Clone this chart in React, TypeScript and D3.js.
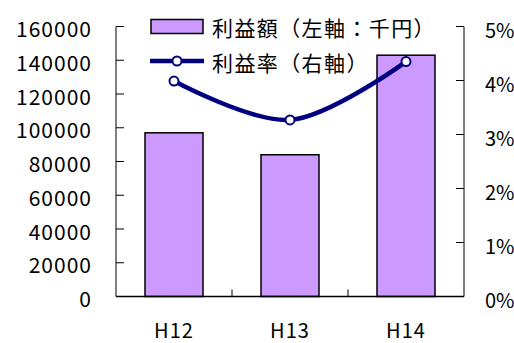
import React from "react";
import * as d3 from "d3";

const categories = ["H12", "H13", "H14"];
const profitAmount = [97000, 84000, 143000];
const profitRate = [0.0399, 0.0327, 0.0435];
const leftTicks = [0, 20000, 40000, 60000, 80000, 100000, 120000, 140000, 160000];
const rightTicks = [0, 0.01, 0.02, 0.03, 0.04, 0.05];
const legendLabels = ["利益額（左軸：千円）", "利益率（右軸）"];

const W = 514;
const H = 343;
const left = 116;
const right = 464;
const top = 26.5;
const bottom = 296.5;
const font = "'Noto Sans CJK JP', 'Noto Sans', sans-serif";
const barFill = "#CC99FF";
const lineColor = "#000080";

export default function App() {
  const x = d3.scaleBand<string>().domain(categories).range([left, right]).padding(0);
  const yL = d3.scaleLinear().domain([0, 160000]).range([bottom, top]);
  const yR = d3.scaleLinear().domain([0, 0.05]).range([bottom, top]);
  const bw = x.bandwidth() * 0.5;
  const cx = (c: string) => (x(c) as number) + x.bandwidth() / 2;

  const linePts: [number, number][] = categories.map((c, i) => [cx(c), yR(profitRate[i])]);
  const linePath = d3.line().curve(d3.curveCatmullRom.alpha(0.5))(linePts) || "";

  const boundaries = categories.slice(1).map((c) => x(c) as number);

  return (
    <svg
      width={W}
      height={H}
      style={{ position: "absolute", left: 0, top: 0, background: "#fff" }}
      fontFamily={font}
    >
      {/* bars */}
      {categories.map((c, i) => (
        <rect
          key={c}
          x={cx(c) - bw / 2}
          y={yL(profitAmount[i])}
          width={bw}
          height={bottom - yL(profitAmount[i])}
          fill={barFill}
          stroke="#000"
          strokeWidth={1.5}
        />
      ))}

      {/* left axis */}
      <line x1={left} x2={left} y1={top} y2={bottom} stroke="#000" strokeWidth={1} />
      {leftTicks.map((t) => (
        <g key={t}>
          <line x1={left} x2={left + 8} y1={yL(t)} y2={yL(t)} stroke="#000" />
          <text
            x={92}
            y={yL(t) + 1.5}
            textAnchor="end"
            dominantBaseline="central"
            fontSize={21}
            letterSpacing={1}
          >
            {t}
          </text>
        </g>
      ))}

      {/* right axis */}
      <line x1={right} x2={right} y1={top} y2={bottom} stroke="#000" strokeWidth={1} />
      {rightTicks.map((t) => (
        <g key={t}>
          <line x1={right - 8} x2={right} y1={yR(t)} y2={yR(t)} stroke="#000" />
          <text
            x={485}
            y={yR(t) + 3}
            textAnchor="start"
            dominantBaseline="central"
            fontSize={20}
          >
            {`${Math.round(t * 100)}%`}
          </text>
        </g>
      ))}

      {/* category axis */}
      <line x1={left} x2={right} y1={bottom} y2={bottom} stroke="#000" strokeWidth={1.5} />
      {boundaries.map((b) => (
        <line key={b} x1={b} x2={b} y1={bottom} y2={bottom - 7} stroke="#000" />
      ))}
      {categories.map((c) => (
        <text key={c} x={cx(c)} y={338} textAnchor="middle" fontSize={20} letterSpacing={1}>
          {c}
        </text>
      ))}

      {/* rate line */}
      <path d={linePath} fill="none" stroke={lineColor} strokeWidth={4.5} />
      {linePts.map(([px, py], i) => (
        <circle key={i} cx={px} cy={py} r={4.5} fill="#fff" stroke={lineColor} strokeWidth={2} />
      ))}

      {/* legend */}
      <rect x={151} y={19.5} width={52} height={14} fill={barFill} stroke="#000" strokeWidth={1.5} />
      <text x={212} y={27} dominantBaseline="central" fontSize={21} letterSpacing={1.4}>
        {legendLabels[0]}
      </text>
      <line x1={150} x2={204} y1={61} y2={61} stroke={lineColor} strokeWidth={4.5} />
      <circle cx={177} cy={61} r={4.5} fill="#fff" stroke={lineColor} strokeWidth={2} />
      <text x={212} y={62} dominantBaseline="central" fontSize={21} letterSpacing={1.4}>
        {legendLabels[1]}
      </text>
    </svg>
  );
}
